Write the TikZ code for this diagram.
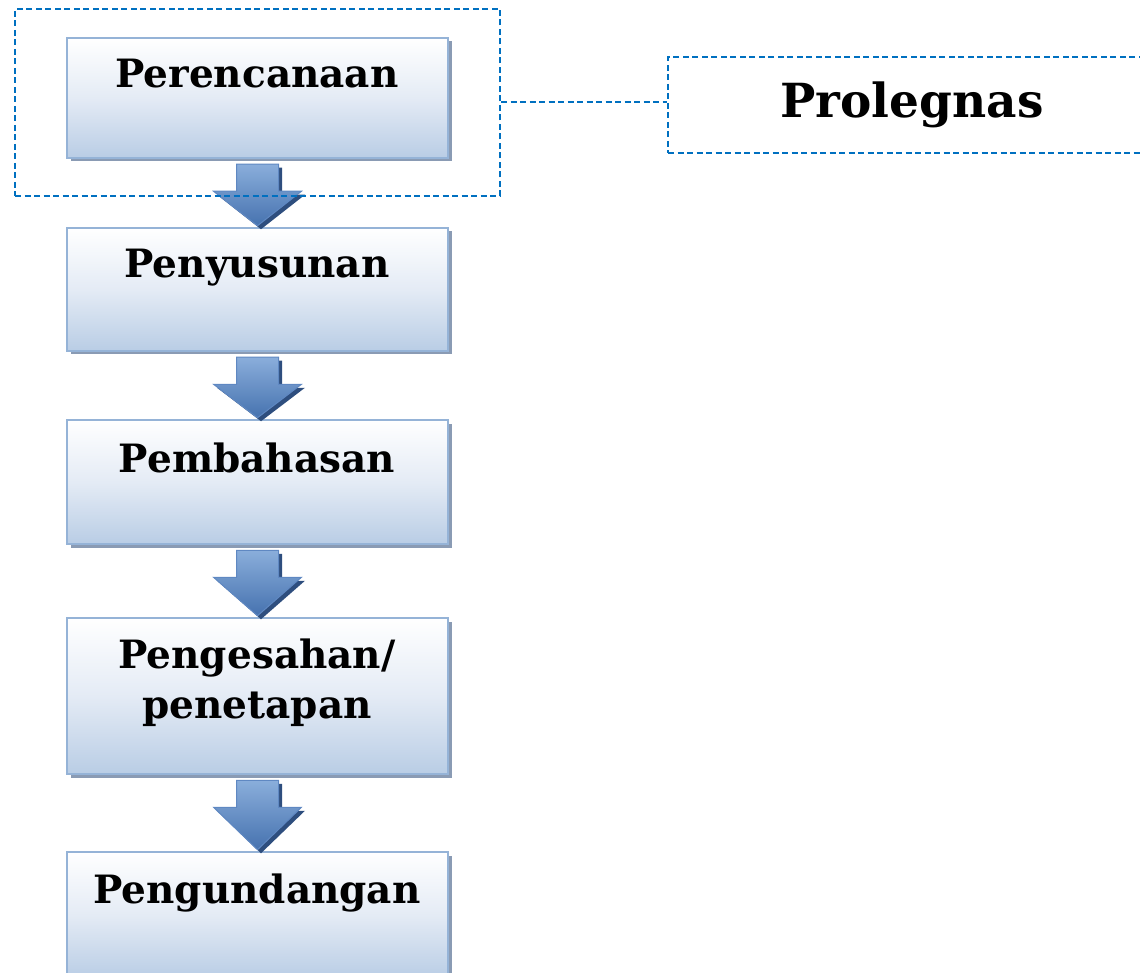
\documentclass[tikz,border=0pt]{standalone}
\usepackage{fontspec}
\setmainfont{DejaVu Serif}
\usetikzlibrary{shadows,calc}
\definecolor{boxedge}{HTML}{95B3D7}
\definecolor{boxbot}{HTML}{B9CDE5}
\definecolor{boxmid}{HTML}{E4EBF5}
\definecolor{boxshade}{HTML}{8A9BB4}
\definecolor{arrlight}{HTML}{8AAEDB}
\definecolor{arrdark}{HTML}{4672AF}
\definecolor{arredge}{HTML}{5F88C2}
\definecolor{arrshade}{HTML}{2E4E7E}
\definecolor{dashblue}{HTML}{0070C0}
\tikzset{
  stagebox/.style={rectangle, draw=boxedge, line width=2.5pt, top color=white, bottom color=boxbot, middle color=boxmid,
    general shadow={fill=boxshade, shadow xshift=3.5pt, shadow yshift=-3.5pt}, inner sep=0pt},
  stagetext/.style={font=\fontsize{39}{50}\selectfont\bfseries, text=black, inner sep=0pt, align=center},
  grpbox/.style={rectangle, draw=dashblue, line width=2pt, dash pattern=on 6pt off 3.5pt, inner sep=0pt},
  dashlink/.style={draw=dashblue, line width=2pt, dash pattern=on 6pt off 3.5pt},
  blockarr/.style={top color=arrlight, bottom color=arrdark, draw=arredge, line width=1pt, line join=miter,
    general shadow={fill=arrshade, shadow xshift=3.5pt, shadow yshift=-3.5pt}},
}
\newcommand{\downblock}[2]{%
  \path let \p1=(#1.south), \p2=(#2.north) in
    [blockarr] (\x1-21pt,\y1-5pt) -- (\x1+21pt,\y1-5pt) -- (\x1+21pt,\y1-32pt) -- (\x1+44pt,\y1-32pt)
    -- (\x1,\y2+1pt) -- (\x1-44pt,\y1-32pt) -- (\x1-21pt,\y1-32pt) -- cycle;}
\begin{document}
\begin{tikzpicture}[x=1pt,y=-1pt]
\useasboundingbox (0,0) rectangle (1140,973);
\clip (0,0) rectangle (1140,973);
% stage boxes
\node[stagebox, minimum width=381pt, minimum height=120pt] (b1) at (257.5,98) {};
\node[stagebox, minimum width=381pt, minimum height=123pt] (b2) at (257.5,289.5) {};
\node[stagebox, minimum width=381pt, minimum height=124pt] (b3) at (257.5,482) {};
\node[stagebox, minimum width=381pt, minimum height=156pt] (b4) at (257.5,696) {};
\node[stagebox, minimum width=381pt, minimum height=126pt] (b5) at (257.5,915) {};
% labels
\node[stagetext, anchor=base] (t1) at (257,88) {Perencanaan};
\node[stagetext, anchor=base] (t2) at (257,278) {Penyusunan};
\node[stagetext, anchor=base] (t3) at (257,472) {Pembahasan};
\node[stagetext, anchor=base] (t4a) at (257,668) {Pengesahan/};
\node[stagetext, anchor=base] (t4b) at (257,718) {penetapan};
\node[stagetext, anchor=base] (t5) at (257,903) {Pengundangan};
% arrows
\downblock{b1}{b2}
\downblock{b2}{b3}
\downblock{b3}{b4}
\downblock{b4}{b5}
% group and prolegnas
\node[grpbox, minimum width=485pt, minimum height=187pt] (g) at (257.5,102.5) {};
\node[grpbox, minimum width=480pt, minimum height=96pt] (pro) at (908,105) {};
\node[font=\fontsize{47}{58}\selectfont\bfseries, anchor=base, inner sep=0pt] (pt) at (912,118) {Prolegnas};
\draw[dashlink] (g.east) -- (g.east -| pro.west);
\end{tikzpicture}
\end{document}
